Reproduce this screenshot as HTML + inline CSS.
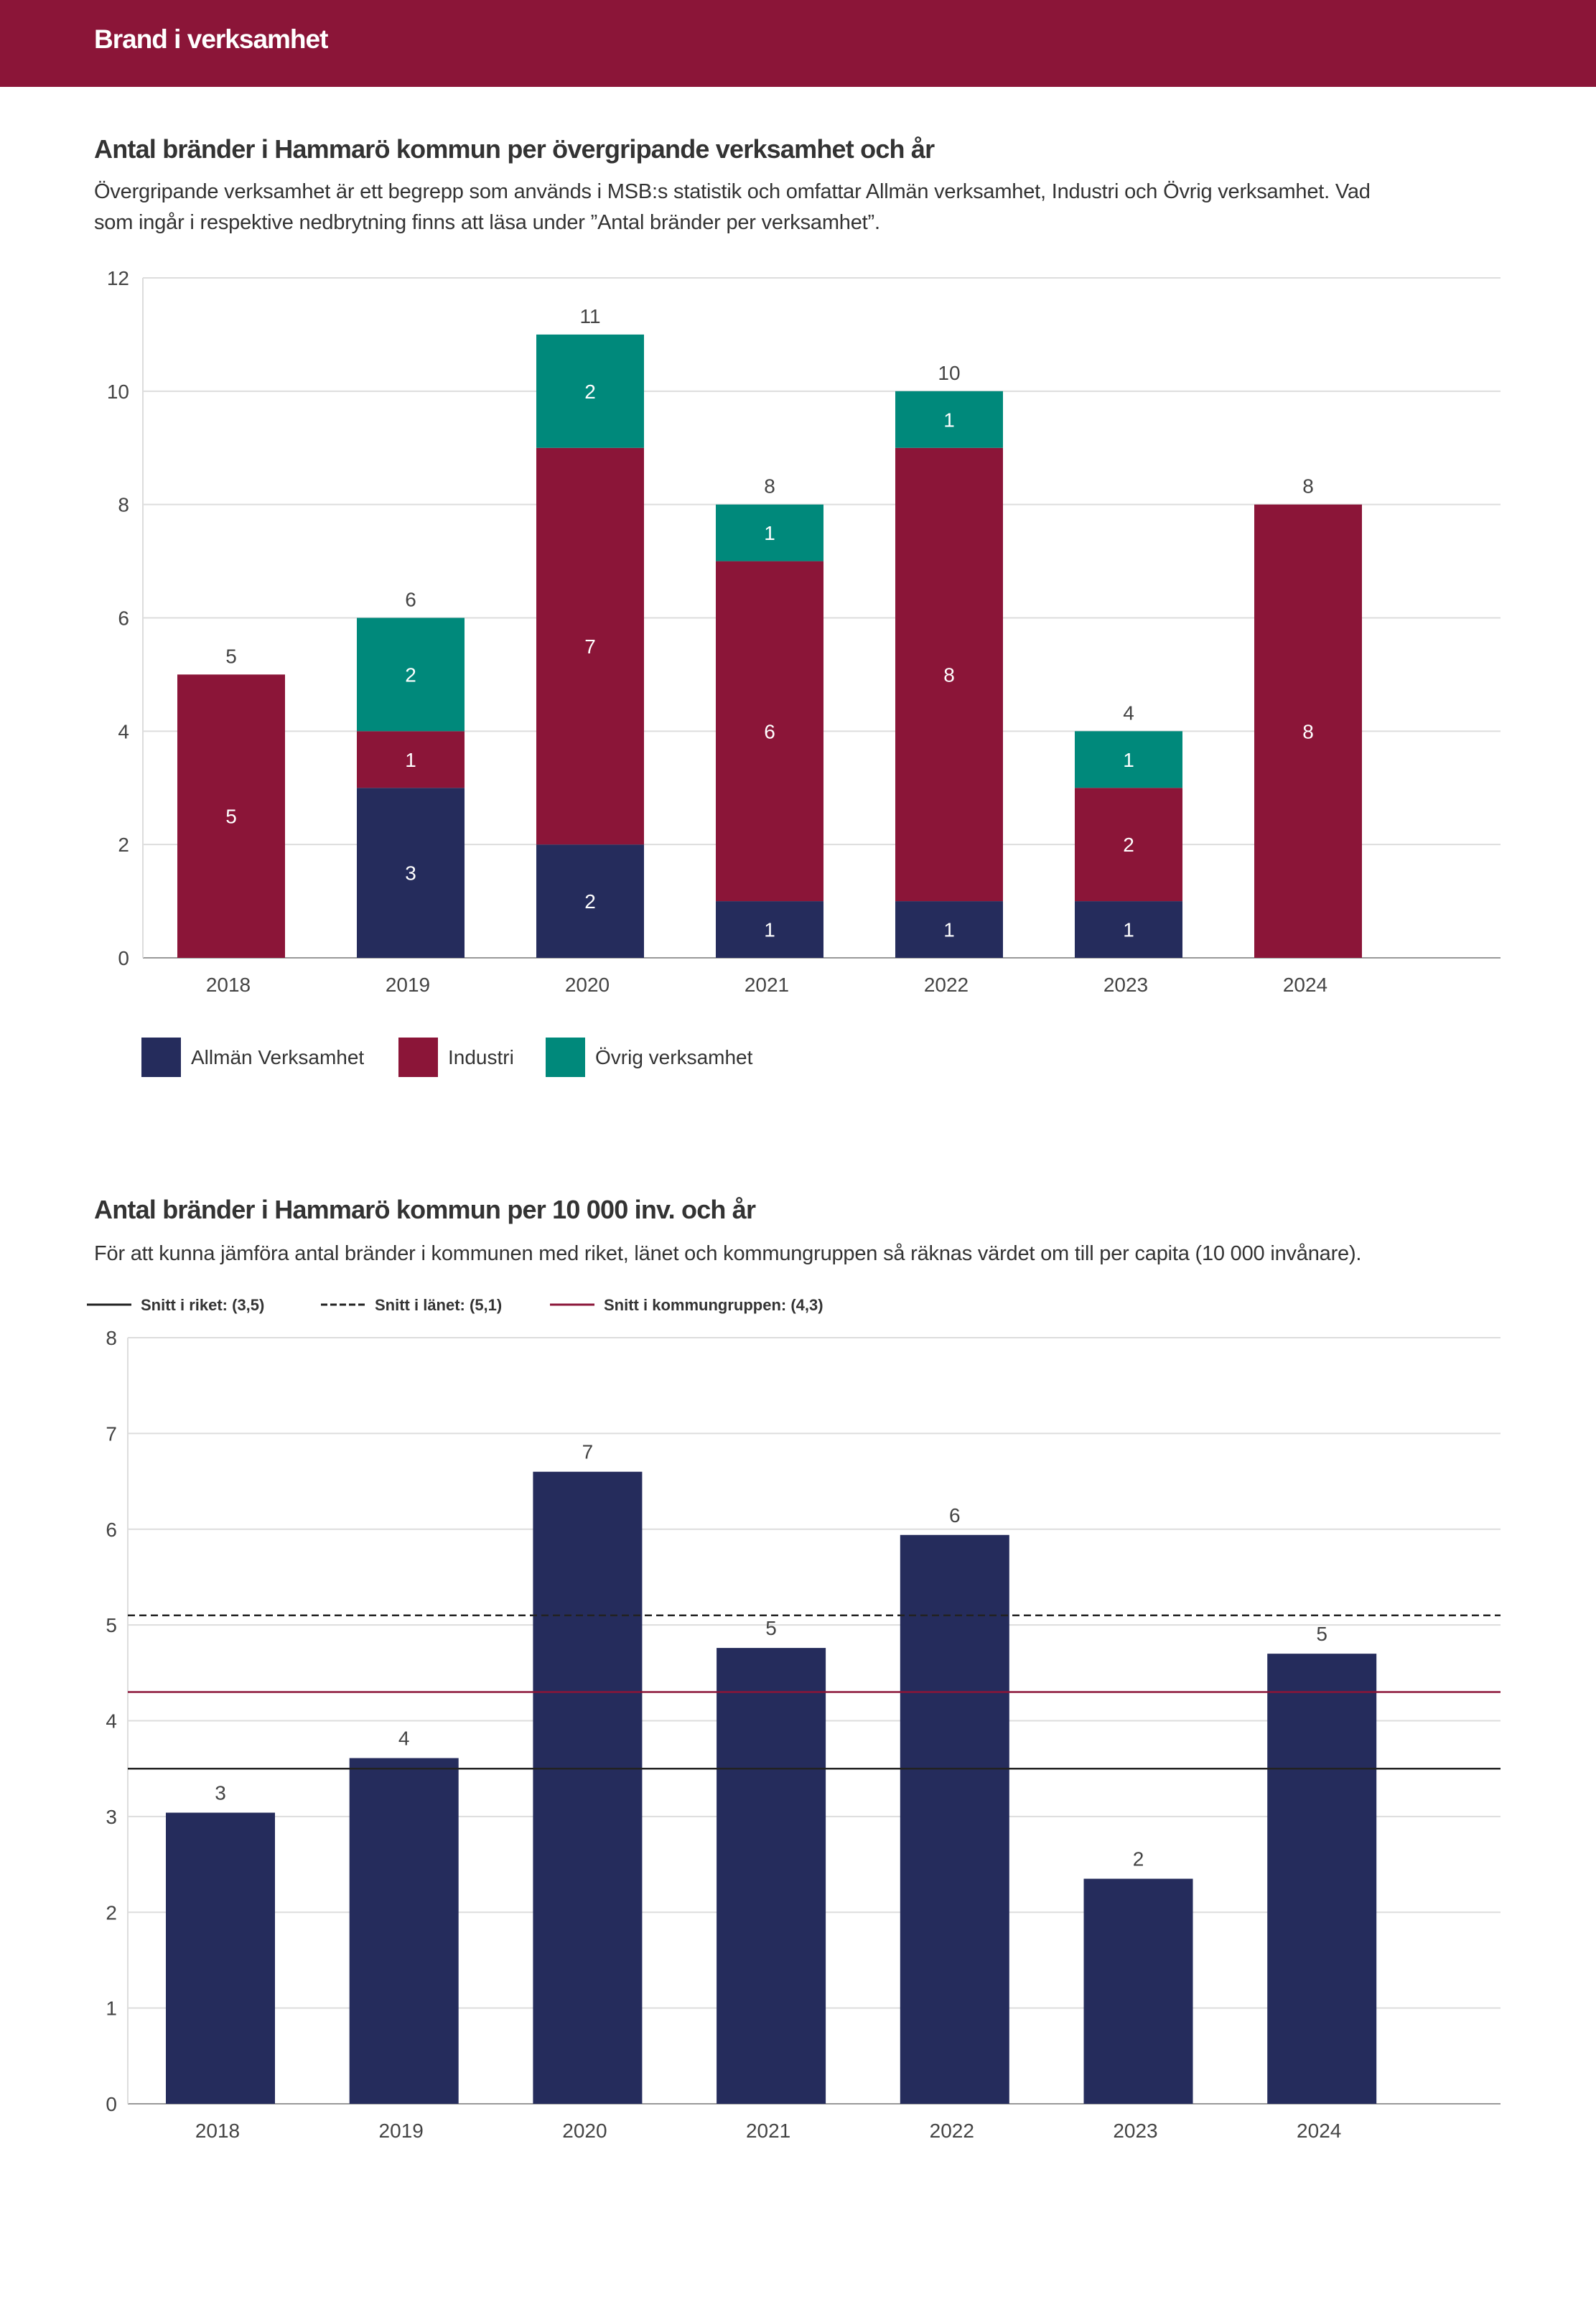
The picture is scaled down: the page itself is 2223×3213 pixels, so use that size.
<!DOCTYPE html>
<html><head><meta charset="utf-8"><style>
html,body{margin:0;padding:0;background:#fff;}
body{width:2223px;height:3213px;position:relative;overflow:hidden;font-family:"Liberation Sans",sans-serif;color:#333;}
.hdr{position:absolute;left:0;top:0;width:2223px;height:121px;background:#8B1538;}
.hdr span{position:absolute;left:131px;top:34px;color:#fff;font-size:37px;font-weight:bold;letter-spacing:-1px;}
.t{position:absolute;left:131px;font-size:36px;font-weight:bold;color:#333;letter-spacing:-0.8px;white-space:nowrap;}
.s{position:absolute;left:131px;font-size:29px;color:#333;line-height:43px;letter-spacing:-0.2px;white-space:nowrap;}
svg{position:absolute;left:0;top:0;}
</style></head><body>
<div class="hdr"><span>Brand i verksamhet</span></div>
<div class="t" style="top:187px">Antal bränder i Hammarö kommun per övergripande verksamhet och år</div>
<div class="s" style="top:246px">Övergripande verksamhet är ett begrepp som används i MSB:s statistik och omfattar Allmän verksamhet, Industri och Övrig verksamhet. Vad<br>som ingår i respektive nedbrytning finns att läsa under ”Antal bränder per verksamhet”.</div>
<div class="t" style="top:1664px">Antal bränder i Hammarö kommun per 10 000 inv. och år</div>
<div class="s" style="top:1725px">För att kunna jämföra antal bränder i kommunen med riket, länet och kommungruppen så räknas värdet om till per capita (10 000 invånare).</div>
<svg id="svg" width="2223" height="3213"></svg>
<script>
const years=["2018","2019","2020","2021","2022","2023","2024"];
const allman=[0,3,2,1,1,1,0];
const industri=[5,1,7,6,8,2,8];
const ovrig=[0,2,2,1,1,1,0];
const ticks1=[0,2,4,6,8,10,12];
const perCapita=[3.04,3.61,6.60,4.76,5.94,2.35,4.70];
const perCapitaLabels=["3","4","7","5","6","2","5"];
const ticks2=[0,1,2,3,4,5,6,7,8];
const refValues=[3.5,5.1,4.3];
const refLabels=["Snitt i riket: (3,5)","Snitt i länet: (5,1)","Snitt i kommungruppen: (4,3)"];

const NS="http://www.w3.org/2000/svg";
const svg=document.getElementById('svg');
function mk(tag,attrs,parent){const e=document.createElementNS(NS,tag);for(const k in attrs)e.setAttribute(k,attrs[k]);(parent||svg).appendChild(e);return e;}
function txt(x,y,s,attrs){const e=mk('text',Object.assign({x:x,y:y,'font-family':'Liberation Sans, sans-serif'},attrs));e.textContent=s;return e;}

// Chart 1
const c1={l:199,r:2090,t:387,b:1334,max:12,x0:322,step:250,bw:150};
const y1=v=>c1.b-(v/c1.max)*(c1.b-c1.t);
const x1=i=>c1.x0+i*c1.step;
ticks1.forEach(v=>{
 const g=mk('line',{x1:c1.l,x2:c1.r,y1:y1(v),y2:y1(v),stroke:v===0?'#999':'#ddd','stroke-width':2});
 
 
 const t=txt(180,y1(v)+10,String(v),{'font-size':28,fill:'#444','text-anchor':'end'});
 
 
});
mk('line',{x1:c1.l,x2:c1.l,y1:c1.t,y2:c1.b,stroke:'#ddd','stroke-width':2});
const cols=['#252C5C','#8B1538','#00897B'];
const series=[allman,industri,ovrig];
const names=['allman','industri','ovrig'];
years.forEach((yr,i)=>{
 let acc=0;
 series.forEach((s,k)=>{
  const v=s[i]; if(!v)return;
  const r=mk('rect',{x:x1(i)-c1.bw/2,y:y1(acc+v),width:c1.bw,height:y1(acc)-y1(acc+v),fill:cols[k]});
  
  
  const l=txt(x1(i),(y1(acc)+y1(acc+v))/2+10,String(v),{'font-size':28,fill:'#fff','text-anchor':'middle'});
  
  
  acc+=v;
 });
 const tl=txt(x1(i),y1(acc)-16,String(acc),{'font-size':28,fill:'#444','text-anchor':'middle'});
 
 
 const xl=txt(x1(i)-4,c1.b+47,yr,{'font-size':28,fill:'#444','text-anchor':'middle'});
 
 
});
const legNames=['Allmän Verksamhet','Industri','Övrig verksamhet'];
const legX=[197,555,760];
legNames.forEach((n,k)=>{
 const r=mk('rect',{x:legX[k],y:1445,width:55,height:55,fill:cols[k]});
 
 
 const t=txt(legX[k]+69,1482,n,{'font-size':28,fill:'#333'});
 
 
});

// Chart 2
const c2={l:178,r:2090,t:1863,b:2930,max:8,x0:307,step:255.7,bw:152};
const y2=v=>c2.b-(v/c2.max)*(c2.b-c2.t);
const x2=i=>c2.x0+i*c2.step;
ticks2.forEach(v=>{
 const g=mk('line',{x1:c2.l,x2:c2.r,y1:y2(v),y2:y2(v),stroke:v===0?'#999':'#ddd','stroke-width':2});
 
 
 const t=txt(163,y2(v)+10,String(v),{'font-size':28,fill:'#444','text-anchor':'end'});
 
 
});
mk('line',{x1:c2.l,x2:c2.l,y1:c2.t,y2:c2.b,stroke:'#ddd','stroke-width':2});
years.forEach((yr,i)=>{
 const v=perCapita[i];
 const r=mk('rect',{x:x2(i)-c2.bw/2,y:y2(v),width:c2.bw,height:y2(0)-y2(v),fill:'#252C5C'});
 
 
 const l=txt(x2(i),y2(v)-18,perCapitaLabels[i],{'font-size':28,fill:'#444','text-anchor':'middle'});
 
 
 const xl=txt(x2(i)-4,c2.b+47,yr,{'font-size':28,fill:'#444','text-anchor':'middle'});
 
 
});
const refStroke=['#222','#222','#8B1538'];
const refDash=['none','10,6','none'];
const refNames=['riket','lanet','kommungruppen'];
refValues.forEach((v,k)=>{
 const l=mk('line',{x1:c2.l,x2:c2.r,y1:y2(v),y2:y2(v),stroke:refStroke[k],'stroke-width':2.5,'stroke-dasharray':refDash[k]});
 
 
});
const rlx=[121,447,766];
refLabels.forEach((n,k)=>{
 const l=mk('line',{x1:rlx[k],x2:rlx[k]+62,y1:1817,y2:1817,stroke:refStroke[k],'stroke-width':3,'stroke-dasharray':refDash[k]==='none'?'none':'9,4'});
 
 
 const t=txt(rlx[k]+75,1825,n,{'font-size':22,'font-weight':'bold',fill:'#333'});
 
 
});
</script>
</body></html>
